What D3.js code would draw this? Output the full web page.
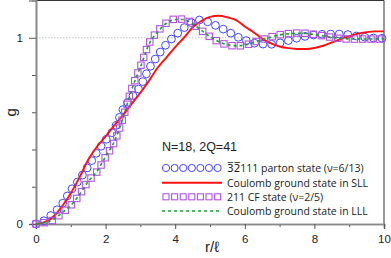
<!DOCTYPE html>
<html>
<head>
<meta charset="utf-8">
<script src="https://cdn.jsdelivr.net/npm/d3@7"></script>
<style>
    body { margin: 0; background: #fff; }
    svg { display: block; }
</style>
</head>
<body>
<svg id="chart"></svg>
<script>
// pair correlation g(r) for N=18, 2Q=41
const rValues = [0, 0.25, 0.5, 0.75, 1, 1.25, 1.5, 1.75, 2, 2.25, 2.5, 2.75, 3, 3.25, 3.5, 3.75, 4, 4.25, 4.5, 4.75,
    5, 5.25, 5.5, 5.75, 6, 6.25, 6.5, 6.75, 7, 7.25, 7.5, 7.75, 8, 8.25, 8.5, 8.75, 9, 9.25, 9.5, 9.75, 10];

const partonG = [0, 0.02, 0.058, 0.107, 0.18, 0.24, 0.31, 0.385, 0.45, 0.51, 0.615, 0.68, 0.74, 0.835, 0.905, 0.966, 1.012, 1.053, 1.085, 1.096,
    1.08, 1.058, 1.035, 1.008, 0.988, 0.972, 0.966, 0.965, 0.972, 0.985, 0.998, 1.008, 1.015, 1.019, 1.02, 1.02, 1.016, 1.008, 1.002, 0.998, 0.997];

const sllG = [0, 0.01, 0.04, 0.095, 0.165, 0.25, 0.345, 0.415, 0.47, 0.53, 0.585, 0.645, 0.705, 0.77, 0.84, 0.895, 0.95, 1.0, 1.055, 1.09,
    1.112, 1.118, 1.11, 1.095, 1.06, 1.03, 0.995, 0.97, 0.953, 0.944, 0.94, 0.94, 0.945, 0.957, 0.975, 0.993, 1.008, 1.022, 1.03, 1.034, 1.034];

const cfG = [0, 0.008, 0.022, 0.06, 0.1, 0.157, 0.23, 0.28, 0.36, 0.44, 0.57, 0.725, 0.845, 0.97, 1.035, 1.08, 1.1, 1.1, 1.075, 1.04,
    1.005, 0.978, 0.962, 0.956, 0.96, 0.975, 0.99, 1.004, 1.016, 1.022, 1.025, 1.024, 1.018, 1.01, 1.002, 0.996, 0.993, 0.993, 0.993, 0.993, 0.993];

const lllG = [0, 0.008, 0.024, 0.06, 0.1, 0.158, 0.228, 0.282, 0.362, 0.442, 0.57, 0.722, 0.842, 0.966, 1.032, 1.078, 1.098, 1.098, 1.074, 1.04,
    1.006, 0.979, 0.963, 0.957, 0.961, 0.975, 0.99, 1.003, 1.015, 1.021, 1.024, 1.023, 1.017, 1.009, 1.002, 0.996, 0.994, 0.993, 0.993, 0.993, 0.993];

const xTicksMajor = [0, 2, 4, 6, 8, 10];
const xTicksMinor = [1, 3, 5, 7, 9];
const yTicksMajor = [0, 1];
const yTicksMinor = [0.2, 0.4, 0.6, 0.8];

const legendTitle = "N=18, 2Q=41";
const legendLabels = [
    "3\u03052\u0305111 parton state (\u03bd=6/13)",
    "Coulomb ground state in SLL",
    "211 CF state (\u03bd=2/5)",
    "Coulomb ground state in LLL"
];

const width = 391, height = 258;
const colors = { parton: "#4646ff", sll: "#ff1010", cf: "#b154e0", lll: "#1f9a3a" };

const svg = d3.select("#chart")
    .attr("width", width)
    .attr("height", height);

const x = d3.scaleLinear().domain([0, 10]).range([36, 384]);
const y = d3.scaleLinear().domain([0, 1.2]).range([224, 0.5]);

// reference line at g = 1
svg.append("line")
    .attr("x1", x(0)).attr("x2", x(10))
    .attr("y1", y(1)).attr("y2", y(1))
    .attr("stroke", "#b8b8b8")
    .attr("stroke-width", 0.8)
    .attr("stroke-dasharray", "1.5,1.5");

// frame: dark top and right edges
svg.append("line")
    .attr("x1", x(0)).attr("x2", x(10))
    .attr("y1", y(1.2)).attr("y2", y(1.2))
    .attr("stroke", "#333").attr("stroke-width", 1.2);
svg.append("line")
    .attr("x1", x(10)).attr("x2", x(10))
    .attr("y1", y(1.2)).attr("y2", y(0))
    .attr("stroke", "#555").attr("stroke-width", 1.2);

// axes
const axisFont = "'Liberation Sans', Arial, sans-serif";

function styleAxis(g) {
    g.select(".domain").attr("stroke", "#8a8a8a").attr("stroke-width", 1.6);
    g.selectAll(".tick line").attr("stroke", "#555");
    g.selectAll(".tick text")
        .attr("fill", "#222")
        .attr("font-family", axisFont)
        .attr("font-size", "11.5px");
}

svg.append("g")
    .attr("transform", `translate(0,${y(0)})`)
    .call(d3.axisBottom(x).tickValues(xTicksMinor).tickSize(3).tickFormat(""))
    .call(styleAxis);
svg.append("g")
    .attr("transform", `translate(0,${y(0)})`)
    .call(d3.axisBottom(x).tickValues(xTicksMajor).tickSize(5).tickPadding(6).tickFormat(d3.format("d")))
    .call(styleAxis);

svg.append("g")
    .attr("transform", `translate(${x(0)},0)`)
    .call(d3.axisLeft(y).tickValues(yTicksMinor).tickSize(4).tickFormat(""))
    .call(styleAxis);
svg.append("g")
    .attr("transform", `translate(${x(0)},0)`)
    .call(d3.axisLeft(y).tickValues(yTicksMajor).tickSize(7).tickPadding(6).tickFormat(d3.format("d")))
    .call(styleAxis);

// axis titles
svg.append("text")
    .attr("transform", `translate(16,${y(0.6)}) rotate(-90)`)
    .attr("text-anchor", "middle")
    .attr("font-family", axisFont)
    .attr("font-size", "15px")
    .attr("fill", "#222")
    .text("g");

svg.append("text")
    .attr("x", 212)
    .attr("y", 252)
    .attr("text-anchor", "middle")
    .attr("font-family", axisFont)
    .attr("font-size", "15px")
    .attr("fill", "#222")
    .text("r/\u2113");

// curves
const lineOf = values => d3.line()
    .x((d, i) => x(rValues[i]))
    .y(d => y(d))
    .curve(d3.curveMonotoneX)(values);

// place markers along a path at a fixed arc-length step
function pointsAlong(d, step) {
    const tmp = svg.append("path").attr("d", d).attr("fill", "none");
    const node = tmp.node();
    const len = node.getTotalLength();
    const pts = [];
    for (let s = 0; s <= len + 0.01; s += step) {
        const p = node.getPointAtLength(s);
        pts.push([p.x, p.y]);
    }
    tmp.remove();
    return pts;
}

const plot = svg.append("g");

// parton state: open circles
plot.selectAll(".parton")
    .data(pointsAlong(lineOf(partonG), 8.6))
    .join("circle")
    .attr("class", "parton")
    .attr("cx", d => d[0])
    .attr("cy", d => d[1])
    .attr("r", 3.9)
    .attr("fill", "none")
    .attr("stroke", colors.parton)
    .attr("stroke-width", 1);

// Coulomb SLL: solid red line
plot.append("path")
    .attr("d", lineOf(sllG))
    .attr("fill", "none")
    .attr("stroke", colors.sll)
    .attr("stroke-width", 1.9);

// 211 CF: open squares
const sq = 6.4;
plot.selectAll(".cf")
    .data(pointsAlong(lineOf(cfG), 8.3))
    .join("rect")
    .attr("class", "cf")
    .attr("x", d => d[0] - sq / 2)
    .attr("y", d => d[1] - sq / 2)
    .attr("width", sq)
    .attr("height", sq)
    .attr("fill", "none")
    .attr("stroke", colors.cf)
    .attr("stroke-width", 1.1);

// Coulomb LLL: green dashed line
plot.append("path")
    .attr("d", lineOf(lllG))
    .attr("fill", "none")
    .attr("stroke", colors.lll)
    .attr("stroke-width", 1.6)
    .attr("stroke-dasharray", "3,3");

// legend
const legend = svg.append("g");
const legendFont = "'Open Sans', 'DejaVu Sans', sans-serif";

legend.append("text")
    .attr("x", 162)
    .attr("y", 151)
    .attr("font-family", axisFont)
    .attr("font-size", "12.5px")
    .attr("fill", "#222")
    .text(legendTitle);

const rowY = [168, 182.7, 196.8, 211];
const lx0 = 162, lx1 = 222;

legend.selectAll(".leg-circle")
    .data(d3.range(lx0 + 4, lx1, 8.6))
    .join("circle")
    .attr("cx", d => d)
    .attr("cy", rowY[0])
    .attr("r", 3.6)
    .attr("fill", "none")
    .attr("stroke", colors.parton)
    .attr("stroke-width", 1);

legend.append("line")
    .attr("x1", lx0).attr("x2", lx1)
    .attr("y1", rowY[1]).attr("y2", rowY[1])
    .attr("stroke", colors.sll)
    .attr("stroke-width", 1.9);

legend.selectAll(".leg-square")
    .data(d3.range(lx0 + 4, lx1, 8.6))
    .join("rect")
    .attr("x", d => d - 3)
    .attr("y", rowY[2] - 3)
    .attr("width", 6)
    .attr("height", 6)
    .attr("fill", "none")
    .attr("stroke", colors.cf)
    .attr("stroke-width", 1.1);

legend.append("line")
    .attr("x1", lx0).attr("x2", lx1)
    .attr("y1", rowY[3]).attr("y2", rowY[3])
    .attr("stroke", colors.lll)
    .attr("stroke-width", 1.6)
    .attr("stroke-dasharray", "3,3");

legend.selectAll(".leg-label")
    .data(legendLabels)
    .join("text")
    .attr("x", 227)
    .attr("y", (d, i) => rowY[i] + 3.8)
    .attr("font-family", legendFont)
    .attr("font-size", "10.5px")
    .attr("fill", "#222")
    .text(d => d);
</script>
</body>
</html>
